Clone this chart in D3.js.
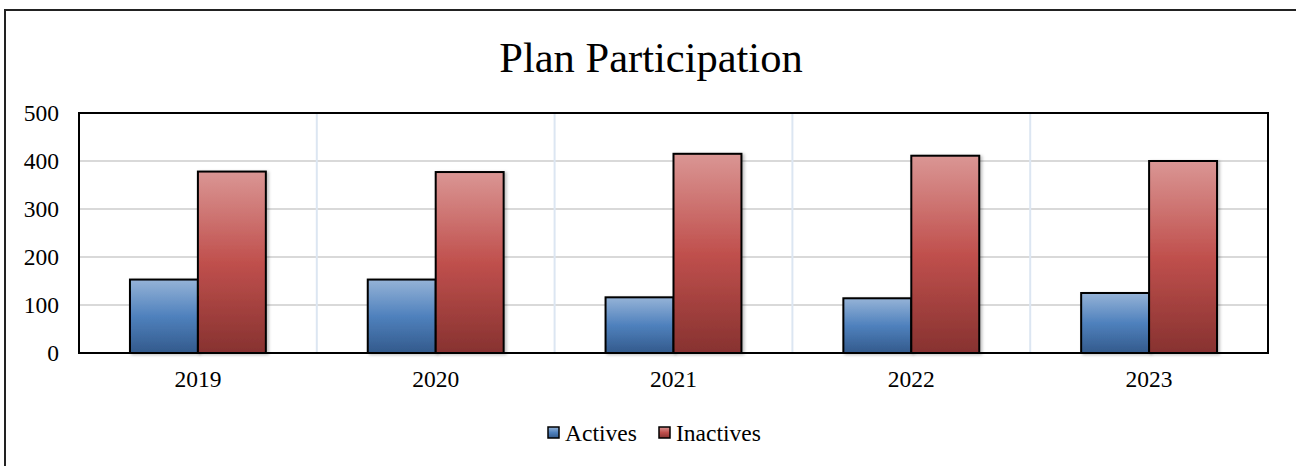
<!DOCTYPE html>
<html>
<head>
<meta charset="utf-8">
<script src="https://cdn.jsdelivr.net/npm/d3@7"></script>
<style>
  html, body { margin: 0; padding: 0; background: #fff; }
  svg { display: block; }
  text { font-family: "Liberation Serif", "Times New Roman", serif; fill: #000; }
</style>
</head>
<body>
<svg id="chart" width="1296" height="466"></svg>
<script>
const categories = ["2019", "2020", "2021", "2022", "2023"];
const seriesNames = ["Actives", "Inactives"];
const activesValues = [153, 153, 116, 114, 125];
const inactivesValues = [378, 377, 415, 411, 400];
const yTicks = [0, 100, 200, 300, 400, 500];
const titleText = "Plan Participation";

const values = [activesValues, inactivesValues];
const data = categories.map((c, i) => ({ cat: c, vals: seriesNames.map((s, j) => ({ series: s, value: values[j][i] })) }));

const svg = d3.select("#chart");
const plot = { left: 79, top: 113, right: 1268, bottom: 353 };

const defs = svg.append("defs");
const gradSpecs = {
  Actives: ["#95b3d7", "#4f81bd", "#335a8c"],
  Inactives: ["#da9694", "#c0504d", "#873230"]
};
Object.entries(gradSpecs).forEach(([k, cols]) => {
  const g = defs.append("linearGradient").attr("id", "grad-" + k)
    .attr("x1", 0).attr("y1", 0).attr("x2", 0).attr("y2", 1);
  g.append("stop").attr("offset", "0%").attr("stop-color", cols[0]);
  g.append("stop").attr("offset", "50%").attr("stop-color", cols[1]);
  g.append("stop").attr("offset", "100%").attr("stop-color", cols[2]);
});
const f = defs.append("filter").attr("id", "shadow").attr("x", "-20%").attr("y", "-20%").attr("width", "150%").attr("height", "150%");
f.append("feDropShadow").attr("dx", 2).attr("dy", 1).attr("stdDeviation", 1.5).attr("flood-color", "#000").attr("flood-opacity", 0.25);

// outer border
svg.append("rect").attr("x", 5).attr("y", 10).attr("width", 1320).attr("height", 500)
  .attr("fill", "#fff").attr("stroke", "#222").attr("stroke-width", 2);

// title
svg.append("text").attr("x", 651).attr("y", 72).attr("text-anchor", "middle")
  .attr("font-size", 42.5).text(titleText);

const x = d3.scaleBand().domain(categories).range([plot.left, plot.right]).paddingInner(0).paddingOuter(0);
const xs = d3.scaleBand().domain(seriesNames).range([0, x.bandwidth()]).paddingInner(0).paddingOuter(0.75);
const y = d3.scaleLinear().domain([0, 500]).range([plot.bottom, plot.top]);

// horizontal gridlines
svg.append("g").selectAll("line").data(yTicks.filter(t => t > 0 && t < 500)).join("line")
  .attr("x1", plot.left).attr("x2", plot.right)
  .attr("y1", d => y(d)).attr("y2", d => y(d))
  .attr("stroke", "#d9d9d9").attr("stroke-width", 2);

// vertical gridlines at category boundaries
svg.append("g").selectAll("line").data(categories.slice(1)).join("line")
  .attr("x1", d => x(d)).attr("x2", d => x(d))
  .attr("y1", plot.top).attr("y2", plot.bottom)
  .attr("stroke", "#dce6f2").attr("stroke-width", 2);

// bars
const groups = svg.append("g").selectAll("g").data(data).join("g")
  .attr("transform", d => `translate(${x(d.cat)},0)`);
groups.selectAll("rect").data(d => d.vals).join("rect")
  .attr("x", d => xs(d.series))
  .attr("y", d => y(d.value))
  .attr("width", xs.bandwidth())
  .attr("height", d => y(0) - y(d.value))
  .attr("fill", d => `url(#grad-${d.series})`)
  .attr("stroke", "#000").attr("stroke-width", 2)
  .attr("filter", "url(#shadow)");

// plot border
svg.append("rect").attr("x", plot.left).attr("y", plot.top)
  .attr("width", plot.right - plot.left).attr("height", plot.bottom - plot.top)
  .attr("fill", "none").attr("stroke", "#000").attr("stroke-width", 2);

// y axis
const yAxis = d3.axisLeft(y).tickValues(yTicks).tickSize(0).tickPadding(0);
const yg = svg.append("g").attr("transform", `translate(${plot.left - 20},0)`).call(yAxis);
yg.select(".domain").remove();
yg.selectAll("text").attr("font-size", 23.5).attr("font-family", "Liberation Serif, serif").attr("fill", "#000");

// x axis
const xAxis = d3.axisBottom(x).tickSize(0).tickPadding(0);
const xg = svg.append("g").attr("transform", `translate(0,${plot.bottom + 17})`).call(xAxis);
xg.select(".domain").remove();
xg.selectAll("text").attr("font-size", 23.5).attr("font-family", "Liberation Serif, serif").attr("fill", "#000");

// legend
const legendItems = [{ name: "Actives", x: 548 }, { name: "Inactives", x: 659 }];
const lg = svg.append("g").selectAll("g").data(legendItems).join("g")
  .attr("transform", d => `translate(${d.x},0)`);
lg.append("rect").attr("x", 0).attr("y", 427).attr("width", 11).attr("height", 11)
  .attr("fill", d => `url(#grad-${d.name})`).attr("stroke", "#000").attr("stroke-width", 1.5);
lg.append("text").attr("x", 17).attr("y", 441).attr("font-size", 23.5).text(d => d.name);
</script>
</body>
</html>
